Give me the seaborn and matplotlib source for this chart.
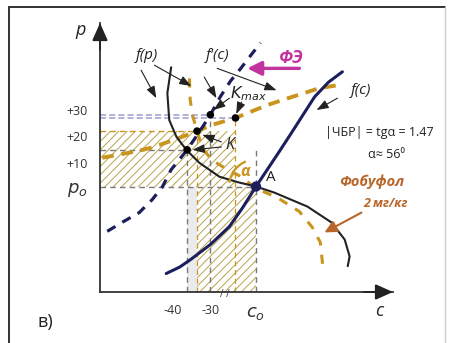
import numpy as np
import seaborn as sns
import matplotlib
matplotlib.use("Agg")
import matplotlib.pyplot as plt
from matplotlib.patches import Rectangle, Arc
from matplotlib.transforms import Affine2D, ScaledTranslation
from matplotlib.lines import Line2D

# chart units: c along x, p along y
C_MIN, C_MAX = -59, 18
P_MIN, P_MAX = -39, 63
c0, p0 = -18, 1

# f(c) - solid navy
fc_c = [-41.6, -38, -35, -30, -25, -21.5, -18, -15, -12, -8.7, -5.5, -2.6, 1, 4.7]
fc_p = [-32, -29.5, -26.5, -21, -14.2, -7, 1, 7.5, 14, 21.3, 28.5, 35, 40.5, 44.5]

# f(p) - solid dark
fp_c = [-40.3, -41.3, -40.8, -38.9, -36.3, -32.9, -27.6, -22.4, -18, -13.2, -4.5, 1.8, 5.3, 6.6, 6.1]
fp_p = [46.2, 36.4, 26.2, 19.8, 14.9, 10, 4.7, 2.5, 1, -1.3, -6.6, -12.6, -19.1, -25.5, -29.2]

# f'(c) - dashed navy
fc2_c = [-57.1, -53.2, -48.7, -45.3, -42.6, -40.3, -36.1, -32.9, -30, -27.4, -24.7, -22, -19.5, -16.8]
fc2_p = [-16, -12.6, -8.9, -4, 0.9, 7.4, 14.9, 21.7, 28.2, 35, 41, 45.8, 50.5, 55.5]

# gold dashed (Фобуфол), shifted f(c)
g1_c = [-58.4, -50, -45.5, -39.5, -33.5, -29.7, -23.4, -15, -8.7, -1.3, 3.4]
g1_p = [11.9, 14.2, 15.7, 18.7, 22, 24.3, 27, 31.9, 34.9, 38.3, 39.4]

# gold dashed (Фобуфол), shifted f(p)
g2_c = [-35.5, -35.3, -34.7, -33.5, -32.1, -29.7, -26.3, -22.4, -17.9, -12.4, -6.6, -3.2, -1.1, -0.5]
g2_p = [42, 33.8, 28.1, 22, 15.7, 11.1, 8.1, 5.1, 0.2, -3.2, -8.5, -14.5, -20.2, -28.5]

# marked points
K_low = (-36.1, 14.9)
K_up = (-33.5, 22)
Kmax_navy = (-30, 28.2)
Kmax_gold = (-23.4, 27)

x_ticks = [-40, -30, c0]
x_labels = ["-40", "-30", "$c_o$"]
y_ticks = [10, 20, 30, p0]
y_labels = ["+10", "+20", "+30", "$p_o$"]

NAVY = "#1c1f5c"
DARK = "#222222"
GOLD = "#c9951f"
HATCH = "#b8a24a"
GRAY = "#7a7a7a"
LAV = "#9c9cd0"
MAG = "#c2339f"
BROWN = "#b8662a"

sns.set_theme(style="white")
plt.rcParams["font.family"] = ["Open Sans", "DejaVu Sans"]
plt.rcParams["hatch.linewidth"] = 0.7
plt.rcParams["hatch.color"] = HATCH

fig = plt.figure(figsize=(4.51, 3.43), dpi=100)
ax = fig.add_axes([100 / 451, 1 - 292 / 343, 293 / 451, 269 / 343])
ax.set_xlim(C_MIN, C_MAX)
ax.set_ylim(P_MIN, P_MAX)
ax.patch.set_alpha(0)

# outer frame
fig.add_artist(Line2D([9 / 451, 9 / 451], [0, 1 - 7 / 343], transform=fig.transFigure, color="#333", lw=1.4))
fig.add_artist(Line2D([9 / 451, 445 / 451], [1 - 7 / 343, 1 - 7 / 343], transform=fig.transFigure, color="#333", lw=1.4))
fig.add_artist(Line2D([445 / 451, 445 / 451], [0, 1 - 7 / 343], transform=fig.transFigure, color="#cccccc", lw=1.0))

# shaded / hatched zones
ax.add_patch(Rectangle((K_low[0], P_MIN), K_up[0] - K_low[0], p0 - P_MIN, facecolor="#ebebee", edgecolor="none", zorder=0))
ax.add_patch(Rectangle((C_MIN, p0), Kmax_gold[0] - C_MIN, K_up[1] - p0, facecolor="none", edgecolor=HATCH, lw=0, hatch="////", zorder=0))
ax.add_patch(Rectangle((K_up[0], P_MIN), c0 - K_up[0], p0 - P_MIN, facecolor="none", edgecolor=HATCH, lw=0, hatch="////", zorder=0))

# helper lines to the axes
ax.hlines(p0, C_MIN, c0, color=GRAY, lw=1, linestyles=(0, (4, 3)), zorder=1)
ax.hlines(K_low[1], C_MIN, K_low[0], color=GRAY, lw=1, linestyles=(0, (4, 3)), zorder=1)
ax.hlines(K_up[1], C_MIN, K_up[0], color=GOLD, lw=1, linestyles=(0, (4, 3)), zorder=1)
ax.hlines(Kmax_navy[1], C_MIN, Kmax_navy[0], color=LAV, lw=1.1, linestyles=(0, (4, 2)), zorder=1)
ax.hlines(Kmax_gold[1], C_MIN, Kmax_gold[0], color=LAV, lw=1.1, linestyles=(0, (4, 2)), zorder=1)
ax.vlines(c0, P_MIN, 15, color=GRAY, lw=1, linestyles=(0, (4, 3)), zorder=1)
ax.vlines(K_low[0], P_MIN, K_low[1], color=GRAY, lw=1, linestyles=(0, (4, 3)), zorder=1)
ax.vlines(K_up[0], P_MIN, K_up[1], color=GOLD, lw=0.9, linestyles=(0, (4, 3)), zorder=1)
ax.vlines(Kmax_navy[0], P_MIN, Kmax_navy[1], color=GRAY, lw=1, linestyles=(0, (4, 3)), zorder=1)
ax.vlines(Kmax_gold[0], P_MIN, Kmax_gold[1], color=GOLD, lw=0.9, linestyles=(0, (4, 3)), zorder=1)

# curves
sns.lineplot(x=g1_c, y=g1_p, sort=False, estimator=None, ax=ax, color=GOLD, lw=2.8, linestyle=(0, (3, 2)), zorder=2)
sns.lineplot(x=g2_c, y=g2_p, sort=False, estimator=None, ax=ax, color=GOLD, lw=2.2, linestyle=(0, (3, 3)), zorder=2)
sns.lineplot(x=fc2_c, y=fc2_p, sort=False, estimator=None, ax=ax, color=NAVY, lw=2.3, linestyle=(0, (3, 2.5)), zorder=3)
sns.lineplot(x=fp_c, y=fp_p, sort=False, estimator=None, ax=ax, color=DARK, lw=1.5, zorder=3)
sns.lineplot(x=fc_c, y=fc_p, sort=False, estimator=None, ax=ax, color=NAVY, lw=2.2, zorder=4)

pts = [K_low, K_up, Kmax_navy, Kmax_gold]
sns.scatterplot(x=[q[0] for q in pts], y=[q[1] for q in pts], ax=ax, color="black", s=30, edgecolor="none", zorder=5)
sns.scatterplot(x=[c0], y=[p0], ax=ax, color=NAVY, s=55, edgecolor="none", zorder=5)

# angle alpha at A
arc_tr = Affine2D() + ScaledTranslation(c0, p0, ax.transData)
ax.add_patch(Arc((0, 0), 54, 54, theta1=112, theta2=172, transform=arc_tr, color=GOLD, lw=1.6, zorder=4))

# axes look
for s in ["top", "right"]:
    ax.spines[s].set_visible(False)
for s in ["left", "bottom"]:
    ax.spines[s].set_color("#333")
    ax.spines[s].set_linewidth(1.3)
ax.set_xticks(x_ticks, x_labels)
ax.set_yticks(y_ticks, y_labels)
ax.tick_params(direction="out", length=6, width=1, color="#333", labelsize=9, labelcolor="#333", pad=3)
ax.get_xticklabels()[2].set_fontsize(13)
ax.get_yticklabels()[3].set_fontsize(13)
ax.grid(False)

head = dict(arrowstyle="-|>,head_length=0.9,head_width=0.4", color="#222", lw=1.3, shrinkA=0, shrinkB=0)
ax.annotate("", xy=(1.0, 0), xytext=(0.9, 0), xycoords="axes fraction", arrowprops=head)
ax.annotate("", xy=(0, 1.0), xytext=(0, 0.9), xycoords="axes fraction", arrowprops=head)

# pointer arrows (chart units)
thin = dict(arrowstyle="-|>,head_length=0.6,head_width=0.22", color="#222", lw=0.8, shrinkA=0, shrinkB=0)
pointers = [
    ((-48.2, 45.1), (-44.2, 34.5)),
    ((-44.7, 47.0), (-35.0, 39.1)),
    ((-31.6, 42.5), (-28.4, 34.5)),
    ((-28.2, 45.8), (-12.6, 37.5)),
    ((-25.0, 34.5), (-29.2, 30.0)),
    ((-21.8, 33.0), (-23.2, 28.5)),
    ((-27.1, 17.9), (-32.1, 20.6)),
    ((-27.1, 16.0), (-34.7, 14.9)),
    ((3.4, 34.5), (-2.1, 30.0)),
]
for a, b in pointers:
    ax.annotate("", xy=b, xytext=a, arrowprops=thin, annotation_clip=False)

ax.annotate("", xy=(-20.3, 45.8), xytext=(-6.6, 45.8), annotation_clip=False,
            arrowprops=dict(arrowstyle="-|>,head_length=0.7,head_width=0.35", color=MAG, lw=2.4, shrinkA=0, shrinkB=0))
ax.annotate("", xy=(0, -16.4), xytext=(9.7, -8.9), annotation_clip=False,
            arrowprops=dict(arrowstyle="-|>,head_length=0.6,head_width=0.3", color=BROWN, lw=1.5, shrinkA=0, shrinkB=0))

# labels
it = dict(ha="center", va="center", fontstyle="italic", color=DARK)
ax.text(-64.2, 60.2, "p", fontsize=13, **it)
ax.text(14.5, -46.2, "c", fontsize=13, **it)
ax.text(-46.6, 50.8, "f(p)", fontsize=11, **it)
ax.text(-28.2, 50.8, "f'(c)", fontsize=11, **it)
ax.text(-20.0, 36.4, "$K_{max}$", fontsize=11.5, ha="center", va="center", color=DARK)
ax.text(-25.0, 16.8, "K", fontsize=11.5, **it)
ax.text(9.7, 37.5, "f(c)", fontsize=11, **it)
ax.text(-8.7, 49.8, "ФЭ", fontsize=12.5, ha="center", va="center", fontstyle="italic", fontweight="bold", color=MAG)
ax.text(14.5, 21.3, "|ЧБР| = tgα = 1.47", fontsize=9, ha="center", va="center", color=DARK)
ax.text(16.3, 13.0, "α≈ 56⁰", fontsize=9, ha="center", va="center", color=DARK)
ax.text(-14.2, 4.3, "A", fontsize=11, ha="center", va="center", color=DARK)
ax.text(-20.8, 6.6, "α", fontsize=11.5, ha="center", va="center", fontstyle="italic", fontweight="bold", color=GOLD)
ax.text(12.4, 2.8, "Фобуфол", fontsize=10.5, ha="center", va="center", fontstyle="italic", fontweight="bold", color=BROWN)
ax.text(16.1, -5.5, "2 мг/кг", fontsize=9, ha="center", va="center", fontstyle="italic", fontweight="bold", color=BROWN)
ax.text(-26.1, -39.8, "/ /", fontsize=7, ha="center", va="center", color="#333")
fig.text(45 / 451, 1 - 322 / 343, "в)", fontsize=13, ha="center", va="center", color=DARK)

fig.savefig("out.png", dpi=100)
